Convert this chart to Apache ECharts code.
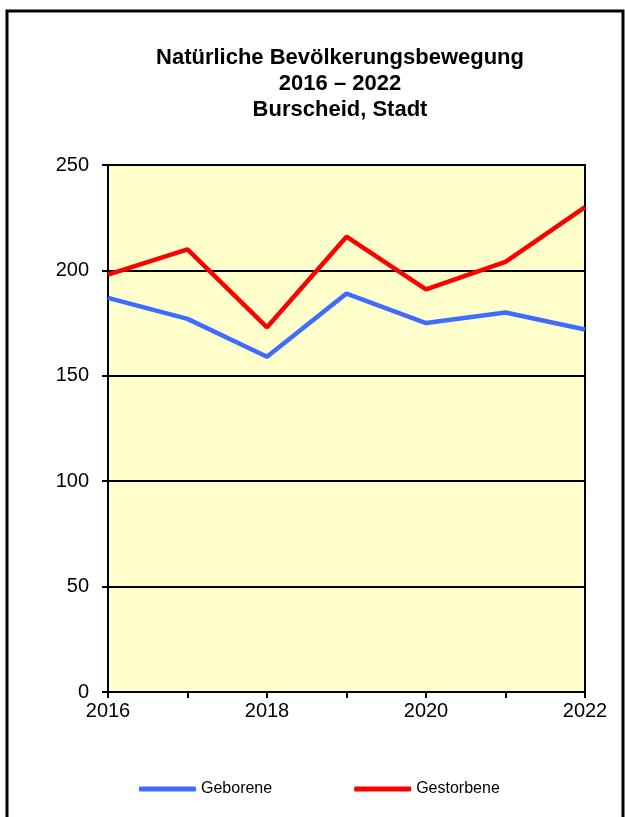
<!DOCTYPE html>
<html><head><meta charset="utf-8">
<script src="https://cdn.jsdelivr.net/npm/echarts@6/dist/echarts.min.js"></script>
<style>html,body{margin:0;padding:0;background:#fff}#c{width:625px;height:817px}</style>
</head><body><div id="c"></div>
<script>
const years = ['2016','2017','2018','2019','2020','2021','2022'];
const geborene = [187,177,159,189,175,180,172];
const gestorbene = [198,210,173,216,191,204,230];
const seriesNames = ['Geborene','Gestorbene'];
const titleText = 'Natürliche Bevölkerungsbewegung\n2016 – 2022\nBurscheid, Stadt';

const FF = 'Liberation Sans, Arial, sans-serif';
const chart = echarts.init(document.getElementById('c'), null, {renderer:'canvas'});
chart.setOption({
  animation:false,
  backgroundColor:'#fff',
  textStyle:{fontFamily:FF},
  title:{text:titleText,left:335,top:40,textAlign:'center',
    textStyle:{fontSize:22,fontWeight:'bold',color:'#000',lineHeight:26,fontFamily:FF}},
  graphic:[{type:'rect',shape:{x:7,y:11,width:616,height:812},style:{fill:'none',stroke:'#000',lineWidth:3},silent:true}],
  legend:{left:134,top:776,itemWidth:57,itemHeight:5,itemGap:82,icon:'roundRect',
    textStyle:{fontSize:16,color:'#000',fontFamily:FF},
    data:seriesNames},
  grid:{left:108,top:165,right:40,bottom:125,show:true,backgroundColor:'#FFFFCC',borderColor:'#000',borderWidth:2},
  xAxis:{type:'category',data:years,boundaryGap:false,
    axisLine:{lineStyle:{color:'#000',width:2}},
    axisTick:{show:true,length:6,interval:0,lineStyle:{color:'#000',width:2}},
    axisLabel:{interval:1,fontSize:20,color:'#000',margin:9},
    splitLine:{show:false}},
  yAxis:{type:'value',min:0,max:250,interval:50,
    axisLine:{show:true,lineStyle:{color:'#000',width:2}},
    axisTick:{show:true,length:6,lineStyle:{color:'#000',width:2}},
    axisLabel:{fontSize:20,color:'#000',margin:19},
    splitLine:{show:true,lineStyle:{color:'#000',width:2}}},
  series:[
    {name:seriesNames[0],type:'line',data:geborene,symbol:'none',lineStyle:{color:'#3F6BFF',width:4.5},itemStyle:{color:'#3F6BFF'}},
    {name:seriesNames[1],type:'line',data:gestorbene,symbol:'none',lineStyle:{color:'#FF0000',width:4.5},itemStyle:{color:'#FF0000'}}
  ]
});
</script></body></html>
